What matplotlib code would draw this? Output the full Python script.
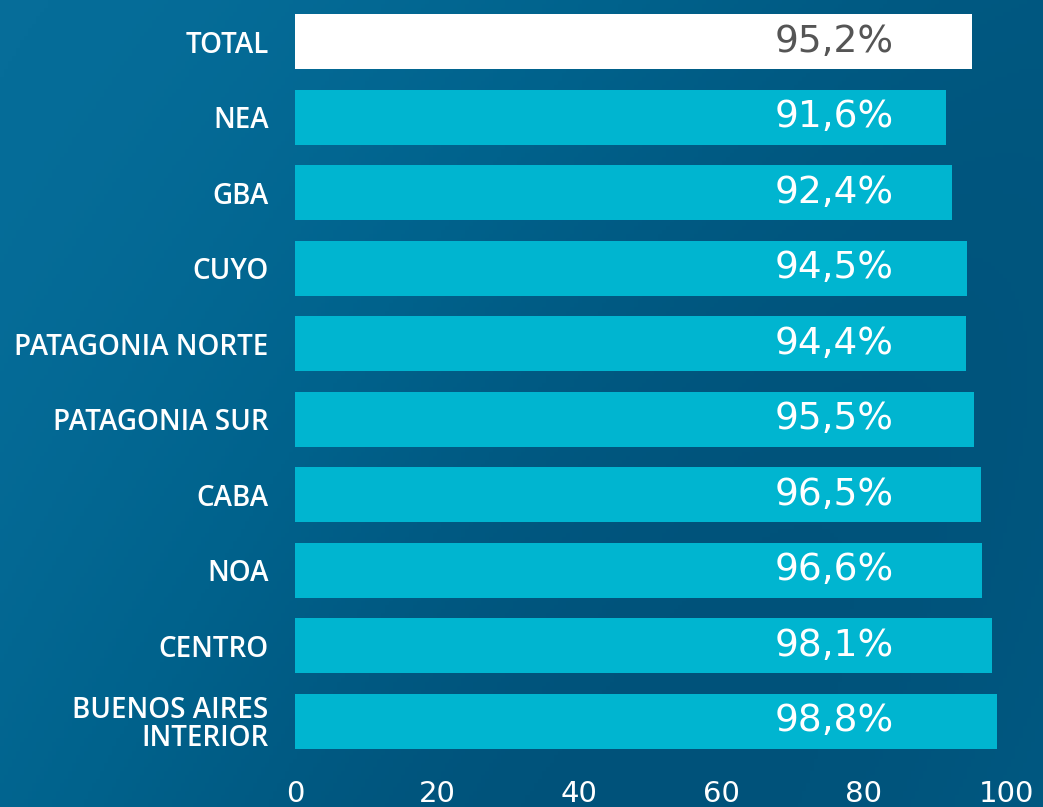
import numpy as np
import matplotlib.pyplot as plt

regions = ["TOTAL", "NEA", "GBA", "CUYO", "PATAGONIA NORTE", "PATAGONIA SUR",
           "CABA", "NOA", "CENTRO", "BUENOS AIRES\nINTERIOR"]
values = [95.2, 91.6, 92.4, 94.5, 94.4, 95.5, 96.5, 96.6, 98.1, 98.8]
xticks = [0, 20, 40, 60, 80, 100]

bg = "#00608a"
bar_color = "#00b5d0"

fig = plt.figure(figsize=(10.43, 8.07), dpi=100, facecolor=bg)

# soft shaded backdrop over the whole figure
back = fig.add_axes([0, 0, 1, 1], zorder=0)
yy, xx = np.mgrid[0:1:200j, 0:1:260j]
shade = 0.5 + 0.2 * np.cos(3.0 * xx + 1.5 * yy) - 0.15 * yy * xx
back.imshow(shade, cmap=plt.matplotlib.colors.LinearSegmentedColormap.from_list(
    "bg", ["#00527a", "#00628c", "#066d99"]), aspect="auto", extent=[0, 1, 0, 1])
back.axis("off")

ax = fig.add_axes([295 / 1043, 1 - 759 / 807, (1006 - 295) / 1043, 755 / 807], zorder=1)
ax.patch.set_alpha(0)

y = np.arange(len(regions))
colors = ["white"] + [bar_color] * (len(regions) - 1)
ax.barh(y, values, height=0.73, color=colors)

for i, v in enumerate(values):
    txt = f"{v:.1f}%".replace(".", ",")
    ax.text(67.4, i, txt, ha="left", va="center", fontsize=27,
            color="#555555" if i == 0 else "white", family="DejaVu Sans")

ax.set_xlim(0, 100)
ax.set_ylim(len(regions) - 0.5, -0.5)
ax.set_yticks(y)
ax.set_yticklabels(regions, color="white", fontsize=20, linespacing=0.95,
                   family="Open Sans", fontweight=600)
ax.set_xticks(xticks)
ax.set_xticklabels([str(t) for t in xticks], color="white", fontsize=21,
                   family="DejaVu Sans")
ax.tick_params(length=0, axis="y", pad=19)
ax.tick_params(length=0, axis="x", pad=15)
for s in ax.spines.values():
    s.set_visible(False)

plt.savefig("out.png", dpi=100, facecolor=bg)
